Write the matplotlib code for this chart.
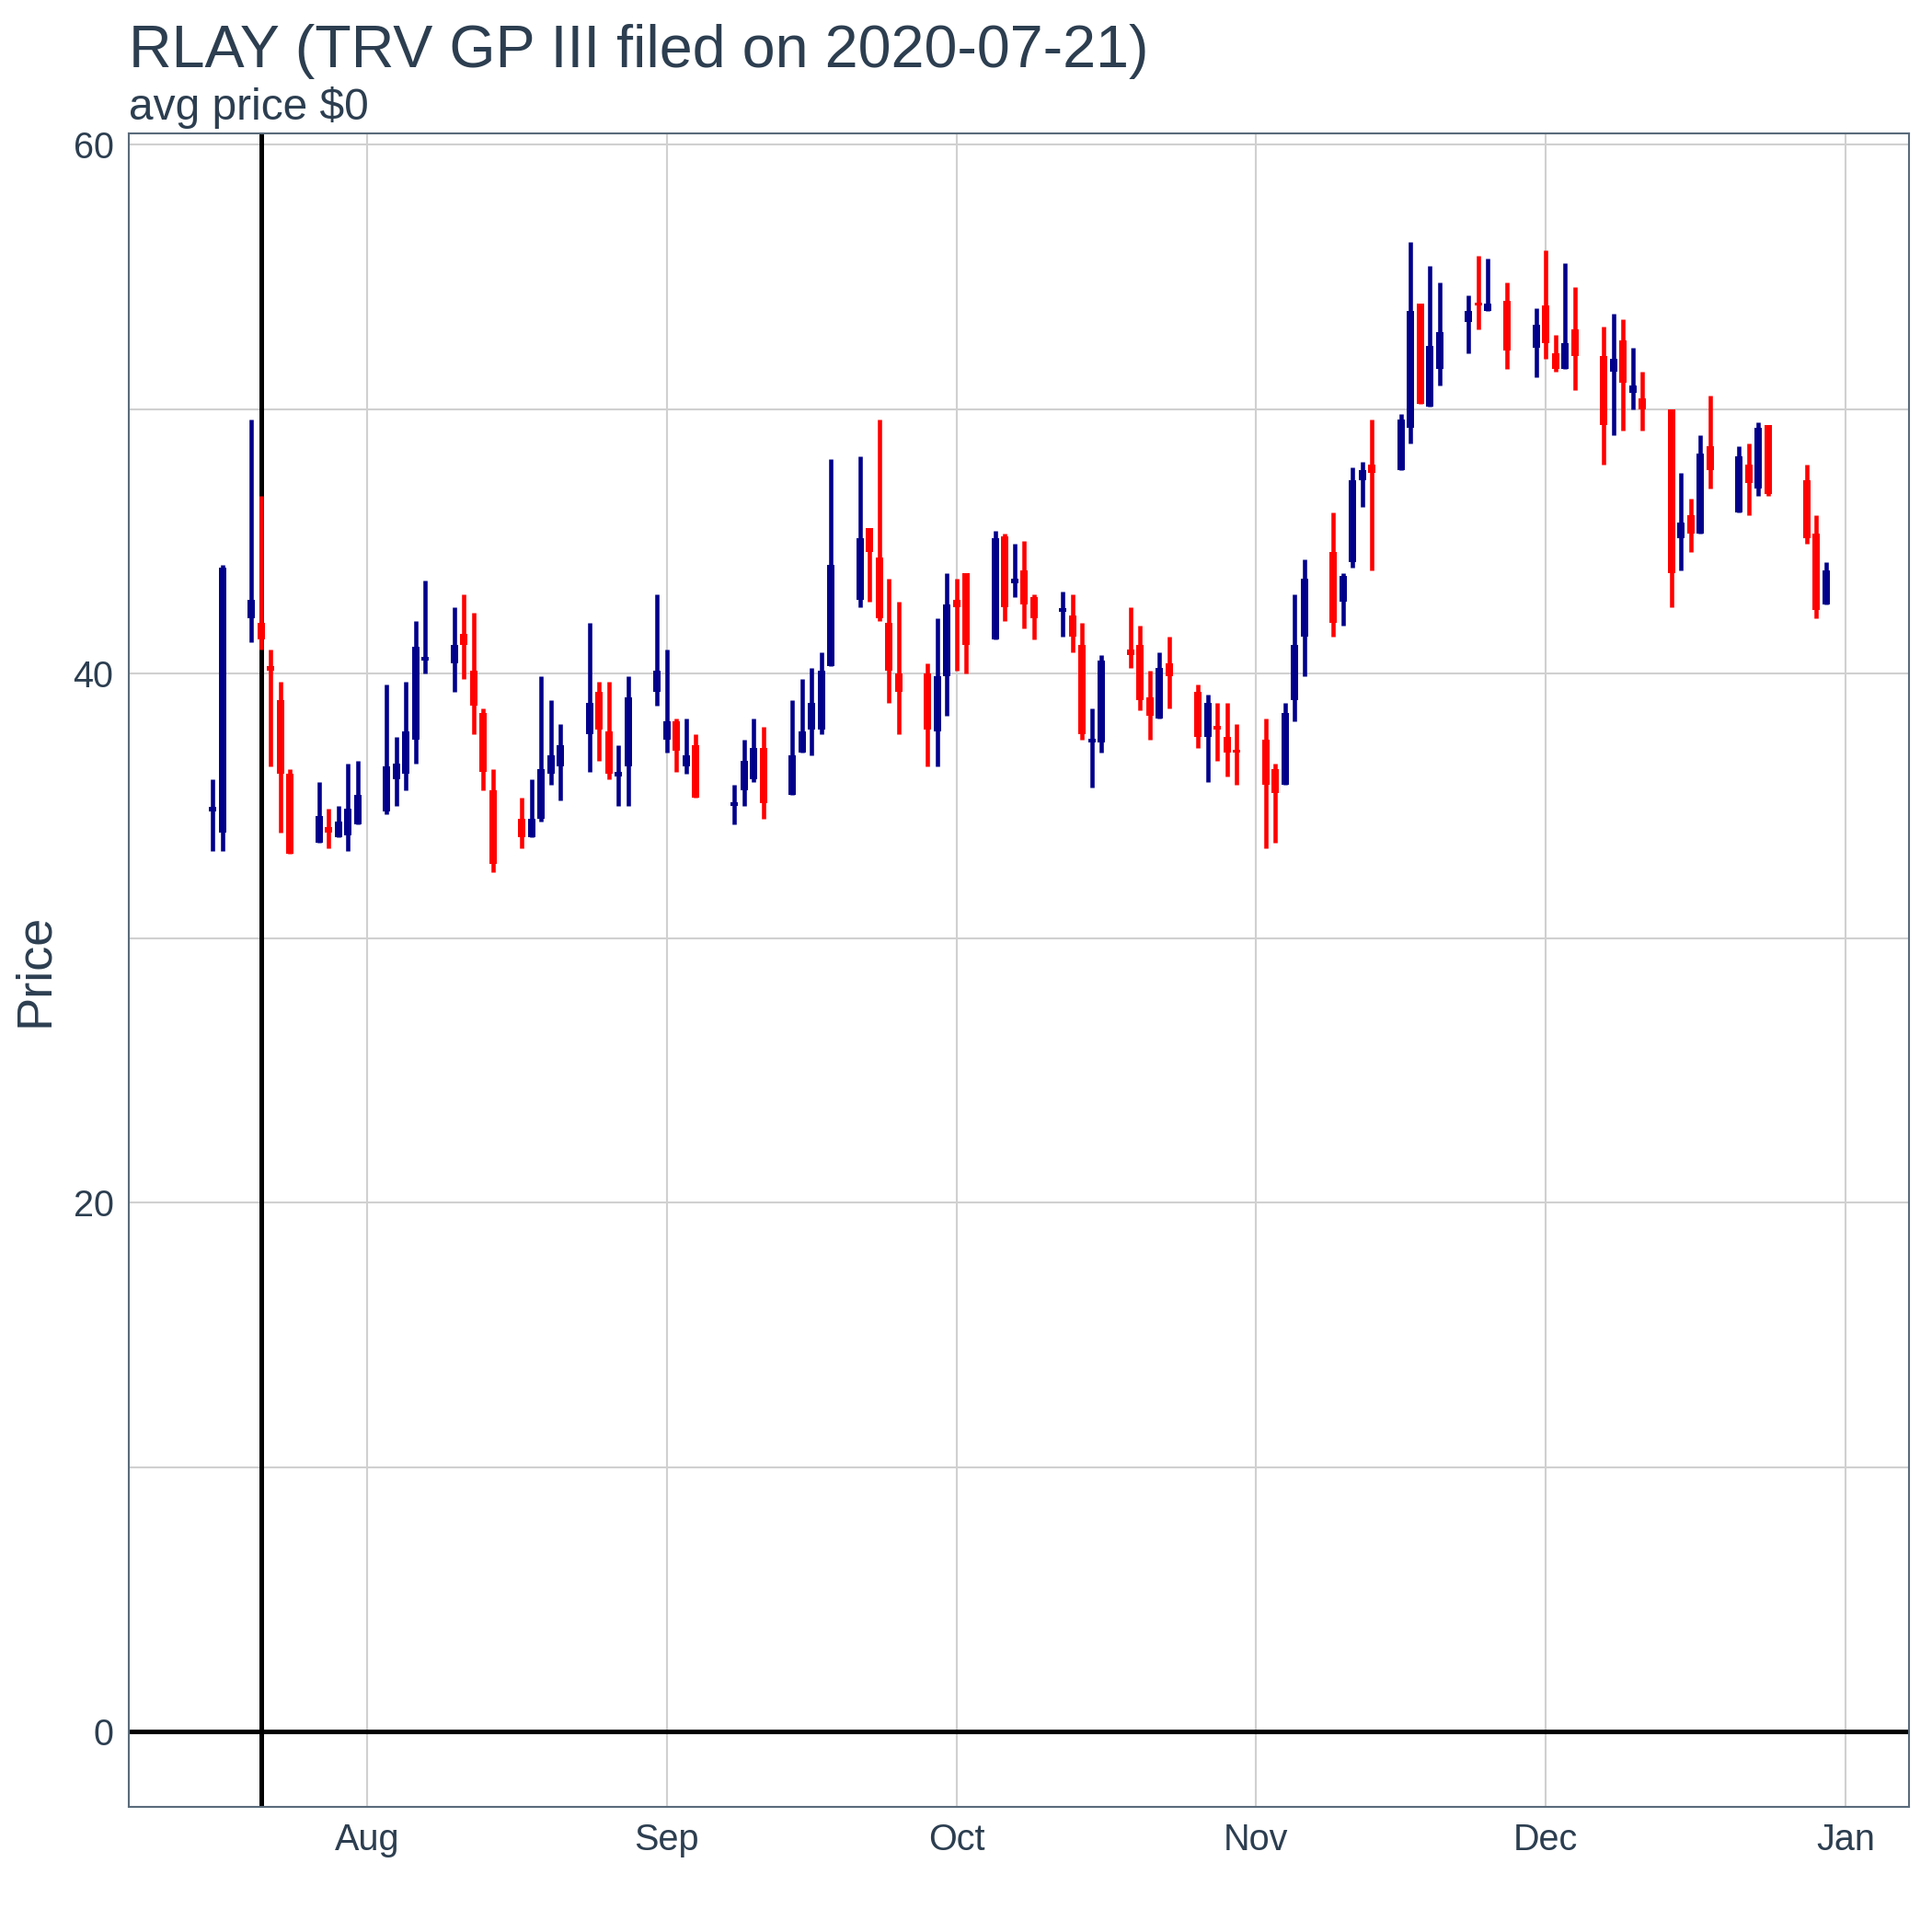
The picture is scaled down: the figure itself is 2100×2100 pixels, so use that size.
import numpy as np
import pandas as pd
import matplotlib
matplotlib.use("Agg")
import matplotlib.pyplot as plt
import matplotlib.dates as mdates

plt.rcParams["font.family"] = ["Liberation Sans", "DejaVu Sans"]

# ============================================
# DATEN
# ============================================
dates = ["2020-07-16", "2020-07-17", "2020-07-20", "2020-07-21", "2020-07-22", "2020-07-23", "2020-07-24",
         "2020-07-27", "2020-07-28", "2020-07-29", "2020-07-30", "2020-07-31",
         "2020-08-03", "2020-08-04", "2020-08-05", "2020-08-06", "2020-08-07",
         "2020-08-10", "2020-08-11", "2020-08-12", "2020-08-13", "2020-08-14",
         "2020-08-17", "2020-08-18", "2020-08-19", "2020-08-20", "2020-08-21",
         "2020-08-24", "2020-08-25", "2020-08-26", "2020-08-27", "2020-08-28",
         "2020-08-31", "2020-09-01", "2020-09-02", "2020-09-03", "2020-09-04",
         "2020-09-08", "2020-09-09", "2020-09-10", "2020-09-11",
         "2020-09-14", "2020-09-15", "2020-09-16", "2020-09-17", "2020-09-18",
         "2020-09-21", "2020-09-22", "2020-09-23", "2020-09-24", "2020-09-25",
         "2020-09-28", "2020-09-29", "2020-09-30", "2020-10-01", "2020-10-02",
         "2020-10-05", "2020-10-06", "2020-10-07", "2020-10-08", "2020-10-09",
         "2020-10-12", "2020-10-13", "2020-10-14", "2020-10-15", "2020-10-16",
         "2020-10-19", "2020-10-20", "2020-10-21", "2020-10-22", "2020-10-23",
         "2020-10-26", "2020-10-27", "2020-10-28", "2020-10-29", "2020-10-30",
         "2020-11-02", "2020-11-03", "2020-11-04", "2020-11-05", "2020-11-06",
         "2020-11-09", "2020-11-10", "2020-11-11", "2020-11-12", "2020-11-13",
         "2020-11-16", "2020-11-17", "2020-11-18", "2020-11-19", "2020-11-20",
         "2020-11-23", "2020-11-24", "2020-11-25", "2020-11-27",
         "2020-11-30", "2020-12-01", "2020-12-02", "2020-12-03", "2020-12-04",
         "2020-12-07", "2020-12-08", "2020-12-09", "2020-12-10", "2020-12-11",
         "2020-12-14", "2020-12-15", "2020-12-16", "2020-12-17", "2020-12-18",
         "2020-12-21", "2020-12-22", "2020-12-23", "2020-12-24",
         "2020-12-28", "2020-12-29", "2020-12-30"]

opens = [34.8, 34.0, 42.1, 41.9, 40.3, 39.0, 36.2,
         33.6, 34.2, 33.8, 33.9, 34.3,
         34.8, 36.0, 36.2, 37.5, 40.5,
         40.4, 41.5, 40.1, 38.5, 35.6,
         34.5, 33.8, 34.5, 36.2, 36.5,
         37.7, 39.3, 37.8, 36.1, 36.5,
         39.3, 37.5, 38.2, 36.5, 37.3,
         35.0, 35.6, 36.0, 37.2,
         35.4, 37.0, 37.9, 37.9, 40.3,
         42.8, 45.5, 44.4, 41.9, 40.0,
         40.0, 37.8, 39.9, 42.8, 43.8,
         41.3, 45.2, 43.4, 43.9, 42.9,
         42.35, 42.2, 41.1, 37.4, 37.4,
         40.9, 41.1, 39.1, 38.3, 40.4,
         39.3, 37.6, 38.0, 37.6, 37.1,
         37.5, 36.4, 35.8, 39.0, 41.4,
         44.6, 42.7, 44.2, 47.3, 47.9,
         47.7, 49.3, 54.0, 50.1, 51.5,
         53.3, 54.0, 53.7, 54.1,
         52.3, 53.9, 52.1, 51.5, 53.0,
         52.0, 51.4, 52.6, 50.6, 50.4,
         50.0, 45.1, 46.0, 45.3, 48.6,
         46.1, 47.9, 47.0, 49.4,
         47.3, 45.3, 42.6]

closes = [34.95, 44.0, 42.8, 41.3, 40.1, 36.2, 33.2,
          34.6, 34.0, 34.4, 34.9, 35.4,
          36.5, 36.6, 37.8, 41.0, 40.6,
          41.1, 41.1, 38.8, 36.3, 32.8,
          33.8, 34.5, 36.4, 36.9, 37.3,
          38.9, 37.9, 36.2, 36.3, 39.1,
          40.1, 38.2, 37.1, 36.9, 35.3,
          35.1, 36.7, 37.2, 35.1,
          36.9, 37.8, 38.9, 40.1, 44.1,
          45.1, 44.6, 42.1, 40.1, 39.3,
          37.9, 39.9, 42.6, 42.5, 41.1,
          45.1, 42.5, 43.6, 42.6, 42.1,
          42.4, 41.4, 37.7, 37.5, 40.5,
          40.7, 39.0, 38.4, 40.2, 39.9,
          37.6, 38.9, 37.9, 37.0, 37.0,
          35.8, 35.5, 38.5, 41.1, 43.6,
          41.9, 43.7, 47.3, 47.7, 47.6,
          49.6, 53.7, 50.2, 52.4, 52.9,
          53.7, 53.9, 54.0, 52.2,
          53.2, 52.5, 51.5, 52.5, 52.0,
          49.4, 51.9, 51.0, 50.9, 50.0,
          43.8, 45.7, 45.3, 48.3, 47.7,
          48.2, 47.2, 49.3, 46.8,
          45.1, 42.4, 43.9]

highs = [36.0, 44.1, 49.6, 46.7, 40.9, 39.7, 36.4,
         35.9, 34.9, 35.0, 36.6, 36.7,
         39.6, 37.6, 39.7, 42.0, 43.5,
         42.5, 43.0, 42.3, 38.7, 36.4,
         35.3, 36.0, 39.9, 39.0, 38.1,
         41.9, 39.7, 39.7, 37.3, 39.9,
         43.0, 40.9, 38.3, 38.3, 37.7,
         35.8, 37.5, 38.3, 38.0,
         39.0, 39.8, 40.2, 40.8, 48.1,
         48.2, 45.5, 49.6, 43.6, 42.7,
         40.4, 42.1, 43.8, 43.6, 43.8,
         45.4, 45.3, 44.9, 45.0, 43.0,
         43.1, 43.0, 41.9, 38.7, 40.7,
         42.5, 41.8, 40.1, 40.8, 41.4,
         39.6, 39.2, 38.9, 38.9, 38.1,
         38.3, 36.6, 38.9, 43.0, 44.3,
         46.1, 43.8, 47.8, 48.0, 49.6,
         49.8, 56.3, 54.0, 55.4, 54.8,
         54.3, 55.8, 55.7, 54.8,
         53.8, 56.0, 52.8, 55.5, 54.6,
         53.1, 53.6, 53.4, 52.3, 51.4,
         50.0, 47.6, 46.6, 49.0, 50.5,
         48.6, 48.7, 49.5, 49.4,
         47.9, 46.0, 44.2]

lows = [33.3, 33.3, 41.2, 40.9, 36.5, 34.0, 33.2,
        33.6, 33.4, 33.8, 33.3, 34.3,
        34.7, 35.0, 35.6, 36.6, 40.0,
        39.3, 39.8, 37.7, 35.6, 32.5,
        33.4, 33.8, 34.4, 35.8, 35.2,
        36.3, 36.7, 36.0, 35.0, 35.0,
        38.8, 37.0, 36.3, 36.2, 35.3,
        34.3, 35.0, 35.9, 34.5,
        35.4, 37.0, 36.9, 37.7, 40.3,
        42.5, 42.7, 42.0, 38.9, 37.7,
        36.5, 36.5, 38.4, 40.1, 40.0,
        41.3, 42.0, 42.9, 41.7, 41.3,
        41.4, 40.8, 37.5, 35.7, 37.0,
        40.2, 38.6, 37.5, 38.3, 38.7,
        37.2, 35.9, 36.7, 36.1, 35.8,
        33.4, 33.6, 35.8, 38.2, 39.9,
        41.4, 41.8, 44.0, 46.3, 43.9,
        47.7, 48.7, 50.2, 50.1, 50.9,
        52.1, 53.0, 53.7, 51.5,
        51.2, 51.9, 51.4, 51.5, 50.7,
        47.9, 49.0, 49.2, 50.0, 49.2,
        42.5, 43.9, 44.6, 45.3, 47.0,
        46.1, 46.0, 46.7, 46.7,
        44.9, 42.1, 42.6]

filed = "2020-07-21"

# ============================================
# PLOT
# ============================================
df = pd.DataFrame({"date": pd.to_datetime(dates), "open": opens, "close": closes,
                   "high": highs, "low": lows})
x = mdates.date2num(df["date"])
up = df["close"] >= df["open"]
farben = np.where(up, "#00008b", "#ff0000")

textfarbe = "#2c3e50"
fig = plt.figure(figsize=(7, 7), dpi=300)
ax = fig.add_axes([0.0667, 0.0647, 0.9214, 0.8663])

ax.vlines(x, df["low"], df["high"], colors=farben, linewidth=1.1, zorder=3)
body_lo = np.minimum(df["open"], df["close"])
body_h = np.maximum(np.abs(df["close"] - df["open"]), 0.12)
ax.bar(x, body_h, bottom=body_lo, width=0.75, color=farben, zorder=3)

ax.axhline(0, color="black", linewidth=1.2, zorder=2)
ax.axvline(mdates.date2num(pd.Timestamp(filed)), color="black", linewidth=1.2, zorder=2)

ax.set_ylim(-2.84, 60.42)
ax.set_xlim(mdates.date2num(pd.Timestamp("2020-07-07 08:00")),
            mdates.date2num(pd.Timestamp("2021-01-07 14:00")))
ax.set_yticks([0, 20, 40, 60])
ax.set_yticks([10, 30, 50], minor=True)
ax.xaxis.set_major_locator(mdates.MonthLocator(bymonthday=1))
ax.xaxis.set_major_formatter(mdates.DateFormatter("%b"))
ax.grid(True, which="both", color="#d0d0d0", linewidth=0.5)
ax.grid(False, which="minor", axis="x")
ax.set_axisbelow(True)
ax.tick_params(which="both", length=0, labelsize=9.5, colors=textfarbe, pad=4)
for s in ax.spines.values():
    s.set_color("#5a6b7b")
    s.set_linewidth(0.5)

ax.set_ylabel("Price", fontsize=13, color=textfarbe)
fig.text(0.0667, 0.965, "RLAY (TRV GP III filed on 2020-07-21)", fontsize=15.5, color=textfarbe)
fig.text(0.0667, 0.938, "avg price $0", fontsize=11.5, color=textfarbe)

plt.savefig("out.png", dpi=300)
